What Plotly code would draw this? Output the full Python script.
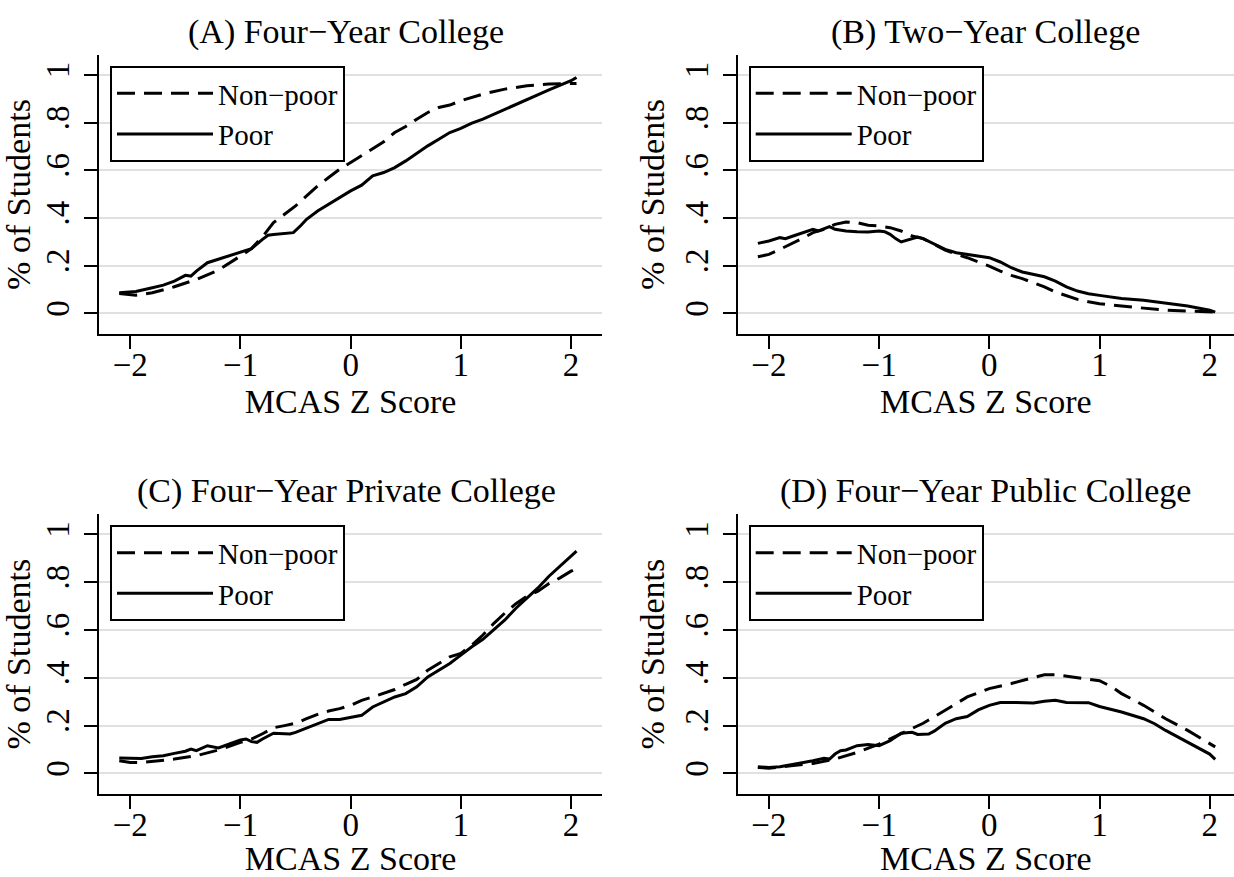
import plotly.graph_objects as go

# ---------------- data ----------------
# Panel A: Four-Year College
a_x_nonpoor = [-2.1, -1.95, -1.8, -1.6, -1.4, -1.2, -1.0, -0.9, -0.8, -0.7, -0.6, -0.5, -0.4, -0.3, -0.2, -0.1,
               0.0, 0.1, 0.2, 0.3, 0.4, 0.5, 0.6, 0.7, 0.8, 0.9, 1.0, 1.2, 1.4, 1.6, 1.8, 2.0, 2.05]
a_nonpoor = [0.084, 0.077, 0.087, 0.112, 0.143, 0.182, 0.241, 0.272, 0.322, 0.381, 0.416, 0.451, 0.493, 0.535,
             0.570, 0.605, 0.633, 0.661, 0.689, 0.720, 0.759, 0.784, 0.815, 0.843, 0.864, 0.874, 0.892, 0.920,
             0.941, 0.955, 0.962, 0.966, 0.965]
a_x_poor = [-2.1, -1.95, -1.8, -1.7, -1.6, -1.5, -1.45, -1.4, -1.3, -1.2, -1.1, -1.0, -0.9, -0.8, -0.75, -0.7,
            -0.6, -0.52, -0.45, -0.4, -0.3, -0.2, -0.1, 0.0, 0.1, 0.2, 0.3, 0.4, 0.5, 0.6, 0.7, 0.8, 0.9, 1.0,
            1.1, 1.2, 1.4, 1.6, 1.8, 2.0, 2.05]
a_poor = [0.087, 0.092, 0.108, 0.119, 0.136, 0.160, 0.157, 0.178, 0.213, 0.227, 0.241, 0.258, 0.272, 0.311,
          0.328, 0.331, 0.335, 0.339, 0.370, 0.395, 0.430, 0.458, 0.486, 0.514, 0.538, 0.577, 0.591, 0.612,
          0.640, 0.672, 0.703, 0.731, 0.759, 0.776, 0.798, 0.815, 0.857, 0.899, 0.938, 0.976, 0.990]

# Panel B: Two-Year College
b_x_nonpoor = [-2.1, -2.0, -1.9, -1.8, -1.7, -1.6, -1.5, -1.4, -1.3, -1.2, -1.1, -1.0, -0.9, -0.8, -0.7, -0.6,
               -0.5, -0.4, -0.3, -0.2, -0.1, 0.0, 0.1, 0.2, 0.3, 0.4, 0.5, 0.6, 0.7, 0.8, 0.9, 1.0, 1.2, 1.4,
               1.6, 1.8, 2.05]
b_nonpoor = [0.238, 0.248, 0.269, 0.290, 0.314, 0.339, 0.353, 0.374, 0.384, 0.381, 0.370, 0.367, 0.360, 0.346,
             0.325, 0.314, 0.290, 0.266, 0.248, 0.234, 0.216, 0.199, 0.178, 0.160, 0.146, 0.129, 0.112, 0.090,
             0.073, 0.059, 0.049, 0.041, 0.031, 0.021, 0.014, 0.010, 0.006]
b_x_poor = [-2.1, -2.0, -1.9, -1.85, -1.8, -1.7, -1.6, -1.55, -1.5, -1.45, -1.4, -1.3, -1.2, -1.1, -1.0, -0.95,
            -0.9, -0.85, -0.8, -0.7, -0.65, -0.6, -0.5, -0.4, -0.3, -0.2, -0.1, 0.0, 0.1, 0.2, 0.3, 0.4, 0.5,
            0.6, 0.7, 0.8, 0.9, 1.0, 1.2, 1.4, 1.6, 1.8, 2.0, 2.05]
b_poor = [0.294, 0.304, 0.318, 0.314, 0.322, 0.339, 0.353, 0.346, 0.356, 0.364, 0.353, 0.346, 0.343, 0.342,
          0.346, 0.343, 0.332, 0.314, 0.300, 0.314, 0.321, 0.314, 0.290, 0.269, 0.255, 0.248, 0.241, 0.234,
          0.216, 0.192, 0.174, 0.164, 0.154, 0.136, 0.112, 0.094, 0.083, 0.076, 0.063, 0.056, 0.045, 0.031,
          0.014, 0.006]

# Panel C: Four-Year Private College
c_x_nonpoor = [-2.1, -2.0, -1.9, -1.8, -1.6, -1.4, -1.2, -1.0, -0.9, -0.8, -0.7, -0.6, -0.5, -0.4, -0.3, -0.2,
               -0.1, 0.0, 0.1, 0.2, 0.3, 0.4, 0.5, 0.6, 0.7, 0.8, 0.9, 1.0, 1.1, 1.2, 1.3, 1.4, 1.5, 1.6, 1.7,
               1.8, 1.9, 2.0, 2.05]
c_nonpoor = [0.053, 0.046, 0.046, 0.050, 0.060, 0.074, 0.098, 0.130, 0.144, 0.166, 0.191, 0.200, 0.210, 0.229,
             0.247, 0.261, 0.271, 0.285, 0.306, 0.320, 0.334, 0.351, 0.373, 0.393, 0.432, 0.460, 0.488, 0.502,
             0.537, 0.579, 0.628, 0.671, 0.710, 0.741, 0.762, 0.794, 0.818, 0.846, 0.856]
c_x_poor = [-2.1, -2.0, -1.9, -1.8, -1.7, -1.6, -1.5, -1.45, -1.4, -1.3, -1.2, -1.1, -1.0, -0.95, -0.9, -0.85,
            -0.8, -0.7, -0.6, -0.55, -0.5, -0.4, -0.3, -0.2, -0.1, 0.0, 0.1, 0.2, 0.3, 0.4, 0.5, 0.6, 0.7, 0.8,
            0.9, 1.0, 1.1, 1.2, 1.3, 1.4, 1.5, 1.6, 1.7, 1.8, 1.9, 2.0, 2.05]
c_poor = [0.065, 0.063, 0.063, 0.070, 0.074, 0.084, 0.093, 0.102, 0.095, 0.116, 0.107, 0.123, 0.140, 0.144,
          0.133, 0.130, 0.144, 0.168, 0.168, 0.165, 0.172, 0.191, 0.208, 0.226, 0.226, 0.233, 0.243, 0.278,
          0.299, 0.320, 0.334, 0.362, 0.404, 0.432, 0.460, 0.495, 0.530, 0.561, 0.600, 0.642, 0.691, 0.734,
          0.776, 0.825, 0.867, 0.909, 0.930]

# Panel D: Four-Year Public College
d_x_nonpoor = [-2.1, -2.0, -1.8, -1.6, -1.4, -1.2, -1.0, -0.8, -0.6, -0.4, -0.2, 0.0, 0.2, 0.4, 0.5, 0.6, 0.8,
               1.0, 1.1, 1.2, 1.4, 1.6, 1.8, 2.0, 2.05]
d_nonpoor = [0.025, 0.022, 0.032, 0.042, 0.060, 0.088, 0.123, 0.166, 0.210, 0.264, 0.320, 0.355, 0.376, 0.401,
             0.413, 0.413, 0.400, 0.388, 0.365, 0.334, 0.285, 0.229, 0.180, 0.126, 0.111]
d_x_poor = [-2.1, -2.0, -1.9, -1.8, -1.7, -1.6, -1.5, -1.45, -1.4, -1.35, -1.3, -1.2, -1.1, -1.0, -0.9, -0.8,
            -0.7, -0.65, -0.55, -0.5, -0.4, -0.3, -0.2, -0.1, 0.0, 0.1, 0.2, 0.3, 0.4, 0.5, 0.6, 0.7, 0.8, 0.9,
            1.0, 1.2, 1.4, 1.5, 1.6, 1.8, 2.0, 2.05]
d_poor = [0.028, 0.025, 0.028, 0.036, 0.042, 0.053, 0.063, 0.060, 0.081, 0.095, 0.098, 0.116, 0.121, 0.116,
          0.137, 0.168, 0.172, 0.163, 0.165, 0.177, 0.210, 0.229, 0.238, 0.266, 0.285, 0.297, 0.297, 0.296,
          0.295, 0.302, 0.306, 0.297, 0.297, 0.296, 0.280, 0.257, 0.229, 0.208, 0.180, 0.130, 0.081, 0.059]

panel_titles = ["(A) Four\u2212Year College", "(B) Two\u2212Year College",
                "(C) Four\u2212Year Private College", "(D) Four\u2212Year Public College"]
series_names = ["Non\u2212poor", "Poor"]
x_tickvals = [-2, -1, 0, 1, 2]
x_ticktext = ["\u22122", "\u22121", "0", "1", "2"]
y_tickvals = [0, 0.2, 0.4, 0.6, 0.8, 1]
y_ticktext = ["0", ".2", ".4", ".6", ".8", "1"]
x_title = "MCAS Z Score"
y_title = "% of Students"

# ---------------- layout geometry ----------------
W, H = 1234, 877
FONT = "Liberation Serif"
TICK_SIZE = 33
TITLE_SIZE = 34
LEGEND_SIZE = 29

def px_x(p):
    return p / W

def px_y(p):
    return 1 - p / H

left_dom = [px_x(99), px_x(602.3)]
right_dom = [px_x(737.7), 1.0]
top_dom = [px_y(334), px_y(55)]
bot_dom = [px_y(794), px_y(514.3)]
left_range = [-2.284, 2.284]
right_range = [-2.283, 2.2205]
y_range = [-0.086, 1.084]

panels = [
    dict(xd=left_dom, yd=top_dom, xr=left_range, cx=346, ty=32,
         xn=a_x_nonpoor, yn=a_nonpoor, xp=a_x_poor, yp=a_poor, lx=110, ly=66),
    dict(xd=right_dom, yd=top_dom, xr=right_range, cx=985, ty=32,
         xn=b_x_nonpoor, yn=b_nonpoor, xp=b_x_poor, yp=b_poor, lx=748.7, ly=66),
    dict(xd=left_dom, yd=bot_dom, xr=left_range, cx=346, ty=491.3,
         xn=c_x_nonpoor, yn=c_nonpoor, xp=c_x_poor, yp=c_poor, lx=110, ly=525.3),
    dict(xd=right_dom, yd=bot_dom, xr=right_range, cx=985, ty=491.3,
         xn=d_x_nonpoor, yn=d_nonpoor, xp=d_x_poor, yp=d_poor, lx=748.7, ly=525.3),
]

fig = go.Figure()
layout = dict(
    width=W, height=H,
    margin=dict(l=0, r=0, t=0, b=0),
    paper_bgcolor="white", plot_bgcolor="white",
    font=dict(family=FONT, color="black", size=TICK_SIZE),
    showlegend=True,
    annotations=[],
)

for i, p in enumerate(panels):
    n = i + 1
    xa = "x" if n == 1 else f"x{n}"
    ya = "y" if n == 1 else f"y{n}"
    lg = "legend" if n == 1 else f"legend{n}"
    fig.add_trace(go.Scatter(x=p["xn"], y=p["yn"], mode="lines", name=series_names[0],
                             line=dict(color="black", width=3, dash="18px,9px"),
                             xaxis=xa, yaxis=ya, legend=lg))
    fig.add_trace(go.Scatter(x=p["xp"], y=p["yp"], mode="lines", name=series_names[1],
                             line=dict(color="black", width=3),
                             xaxis=xa, yaxis=ya, legend=lg))
    xkey = "xaxis" if n == 1 else f"xaxis{n}"
    ykey = "yaxis" if n == 1 else f"yaxis{n}"
    layout[xkey] = dict(
        domain=p["xd"], range=p["xr"], anchor=ya,
        tickmode="array", tickvals=x_tickvals, ticktext=x_ticktext,
        ticks="outside", ticklen=13, tickwidth=2, tickcolor="black",
        ticklabelstandoff=-13,
        showline=True, linecolor="black", linewidth=2,
        showgrid=False, zeroline=False,
        tickfont=dict(family=FONT, size=TICK_SIZE, color="black"),
        title=dict(text=x_title, font=dict(family=FONT, size=TITLE_SIZE, color="black"), standoff=2),
    )
    layout[ykey] = dict(
        domain=p["yd"], range=y_range, anchor=xa,
        tickmode="array", tickvals=y_tickvals, ticktext=y_ticktext, tickangle=-90,
        ticks="outside", ticklen=13, tickwidth=2, tickcolor="black",
        ticklabelstandoff=2,
        showline=True, linecolor="black", linewidth=2,
        showgrid=True, gridcolor="#e0e0e0", gridwidth=2, zeroline=False,
        tickfont=dict(family=FONT, size=TICK_SIZE, color="black"),
        title=dict(text=y_title, font=dict(family=FONT, size=TITLE_SIZE, color="black"), standoff=4),
    )
    layout[lg] = dict(
        x=px_x(p["lx"]), y=px_y(p["ly"]), xanchor="left", yanchor="top",
        bgcolor="white", bordercolor="black", borderwidth=2,
        font=dict(family=FONT, size=LEGEND_SIZE, color="black"),
        itemwidth=96, tracegroupgap=0,
    )
    layout["annotations"].append(dict(
        text=panel_titles[i], x=px_x(p["cx"]), y=px_y(p["ty"]), xref="paper", yref="paper",
        xanchor="center", yanchor="middle", showarrow=False,
        font=dict(family=FONT, size=TITLE_SIZE, color="black")))

fig.update_layout(**layout)
fig.write_html("out.html", config={"displayModeBar": False},
               post_script="document.body.style.margin='0';")
